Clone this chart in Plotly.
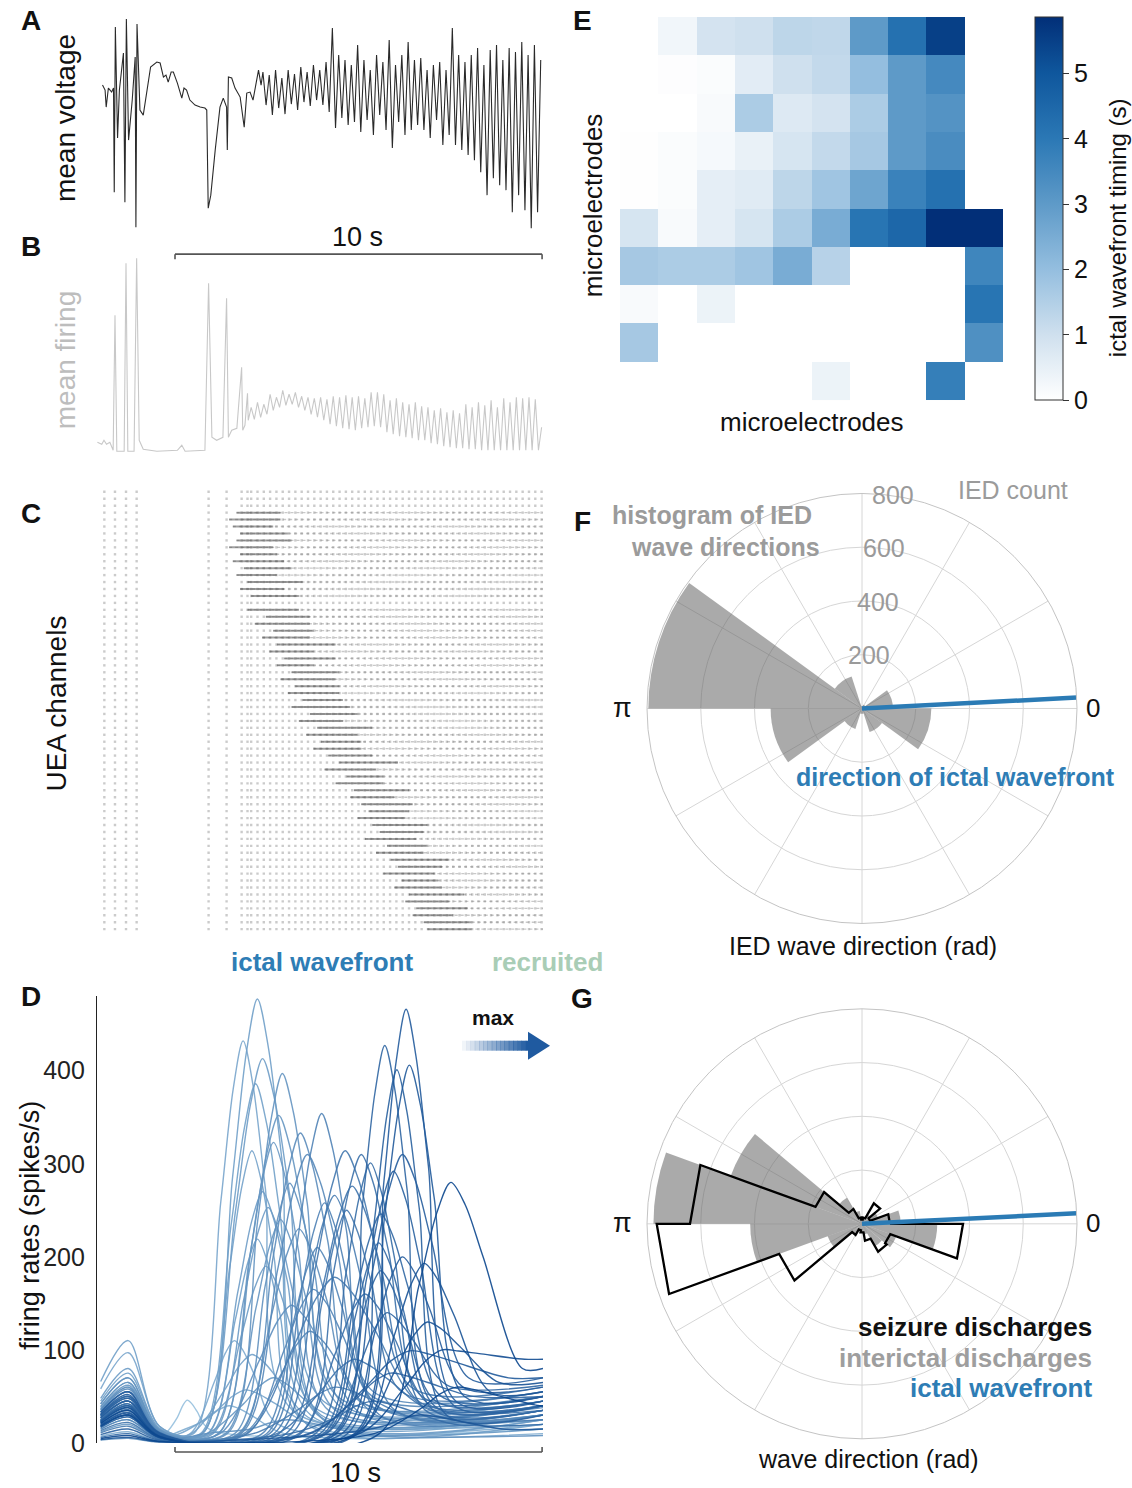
import plotly.graph_objects as go

W = 1132
REF_H = 1488           # height of the reference picture
H = 1503               # css height of the captured page
FONT = "Liberation Sans, Arial, Helvetica, sans-serif"


def px(x):
    return x / W


def py(y):
    return 1 - y / REF_H


# ------------------------------------------------------------------ DATA
T_END = 12.15          # seconds of recording shown in panels A-D
SAMPLE_DT = 0.086      # sampling step of the oscillatory part (s)

# A: mean voltage (a.u.) - irregular early part (t, v) then sampled part
A_early = [(0.15, 15), (0.22, 10), (0.25, -7), (0.31, 12), (0.40, 8), (0.45, 12),
           (0.47, -92), (0.50, 73), (0.56, -38), (0.61, 10), (0.67, 30), (0.72, 47),
           (0.76, -102), (0.80, 81), (0.86, -40), (0.96, 0), (1.04, 43), (1.06, -127),
           (1.09, 76), (1.17, -10), (1.26, -15), (1.36, 7), (1.46, 33), (1.63, 38),
           (1.72, 37), (1.81, 23), (1.88, 25), (1.94, 18), (2.02, 28), (2.08, 28),
           (2.19, 17), (2.31, 2), (2.37, 12), (2.44, 10), (2.53, 0), (2.67, -5),
           (2.81, -7), (2.94, -8), (2.99, -10), (3.03, -108), (3.10, -95), (3.22, -50),
           (3.35, -7), (3.44, 2), (3.53, -7), (3.55, -50), (3.58, 23), (3.67, 22),
           (3.76, 12), (3.90, 3), (4.01, -27), (4.08, 7), (4.17, 8), (4.25, 0),
           (4.40, 30), (4.47, 15)]
A_osc_start = 4.52
A_osc = [28, -5, 25, -15, 30, -8, 22, -14, 30, -4, 26, -10, 33, -2, 28, -6, 35, 0, 30, -5,
         38, -12, 72, -28, 45, -18, 40, -25, 35, -22, 55, -32, 40, -20, 30, -35, 45, -15,
         38, -30, 60, -48, 35, -22, 45, -35, 58, -30, 40, -25, 42, -30, 30, -38, 35, -20,
         38, -45, 30, -35, 72, -45, 45, -50, 38, -55, 45, -60, 52, -72, 35, -95, 50, -78,
         55, -85, 40, -90, 52, -112, 48, -95, 58, -110, 45, -128, 55, -112, 40]

# B: mean firing (a.u.)
B_early = [(0.01, 10), (0.13, 8), (0.19, 12), (0.26, 8), (0.35, 10), (0.44, 2),
           (0.49, 137), (0.54, 1), (0.74, 1), (0.79, 189), (0.84, 1), (1.01, 1),
           (1.08, 194), (1.15, 12), (1.26, 3), (1.63, 1), (2.19, 2), (2.31, 7),
           (2.40, 1), (2.94, 2), (3.04, 169), (3.13, 15), (3.26, 12), (3.43, 15),
           (3.53, 154), (3.58, 15), (3.67, 22), (3.81, 24), (3.94, 85), (3.97, 22),
           (4.03, 27), (4.10, 59), (4.12, 32)]
B_osc_start = 4.20
B_osc = [45, 33, 50, 35, 48, 38, 58, 42, 55, 45, 62, 47, 58, 48, 60, 45, 56, 42, 55, 38,
         54, 35, 55, 32, 53, 28, 56, 26, 55, 24, 57, 23, 55, 22, 56, 24, 54, 25, 60, 26,
         60, 25, 58, 20, 52, 18, 54, 16, 50, 15, 48, 14, 50, 12, 46, 12, 45, 9, 42, 8,
         44, 6, 40, 5, 42, 4, 39, 4, 48, 3, 45, 3, 50, 2, 47, 2, 52, 2, 45, 2, 54, 2,
         50, 2, 55, 2, 54, 2, 55, 2, 53, 2, 25]

# C: UEA channel raster - IED times, pre-ictal discharges, per-channel recruitment
C_ied_times = [0.2, 0.49, 0.79, 1.08]
C_preictal_times = [3.04, 3.53, 3.94, 4.10]
C_onset = [None, None, None, 3.8, 3.6, 3.7, 3.9, 3.8, 3.6, 3.9, 3.7, 4.0, 3.8, 4.1, 3.9, 4.2,
           None, 4.1, 4.6, 4.3, 4.8, 4.5, 4.9, 4.7, 5.1, 4.9, 5.3, 5.0, 5.4, 5.2, 5.6, 5.3,
           5.8, 5.5, 6.0, 5.7, 6.1, 5.9, 6.3, 6.6, 6.2, 6.8, 6.5, 7.0, 6.9, 7.2, 7.4, 7.1,
           7.5, 7.7, 7.3, 7.9, 7.6, 8.0, 8.2, 7.8, 8.3, 8.1, 8.5, 8.4, 8.7, 8.6, 8.9, 9.0]
C_dur = [0, 0, 0, 1.2, 1.4, 1.1, 1.3, 1.5, 1.2, 1.0, 1.4, 1.3, 1.1, 1.5, 1.2, 1.3,
         0, 1.4, 1.2, 1.5, 1.1, 1.3, 1.6, 1.2, 1.4, 1.0, 1.3, 1.5, 1.2, 1.4, 1.1, 1.6,
         1.3, 1.2, 1.5, 1.4, 1.1, 1.3, 1.2, 1.6, 1.4, 1.0, 1.3, 1.5, 1.2, 1.4, 1.1, 1.3,
         1.5, 1.2, 1.4, 1.1, 1.3, 1.6, 1.2, 1.4, 1.0, 1.3, 1.5, 1.2, 1.4, 1.1, 1.3, 1.2]

# D: firing rates of single units (spikes/s): peak time, peak rate, half-span, early bump, final rate
D_peak_t = [4.37, 3.98, 4.51, 4.32, 5.05, 4.95, 4.22, 4.81, 5.54, 6.12, 5.73, 6.76, 7.20, 7.45,
            7.84, 8.42, 8.17, 8.51, 8.32, 8.08, 9.64, 8.91, 6.47, 6.20, 5.25, 4.51, 4.66, 4.37,
            6.95, 7.73, 7.67, 8.32, 7.73, 6.47, 8.51, 3.74, 4.22, 5.30, 2.46, 4.05, 5.00, 5.50,
            6.00, 6.80, 7.30, 9.00, 9.40, 5.80, 7.00, 4.80, 6.50, 8.00, 3.60, 7.50, 9.80, 5.20,
            8.80, 4.60, 5.90, 7.90]
D_peak_v = [477, 432, 413, 386, 397, 352, 314, 323, 333, 354, 310, 314, 310, 301, 427, 466,
            401, 406, 310, 292, 280, 193, 266, 258, 279, 270, 253, 219, 276, 246, 215, 200,
            185, 178, 99, 110, 95, 148, 46, 57, 240, 230, 210, 250, 160, 130, 100, 120, 90,
            70, 60, 75, 40, 45, 60, 25, 30, 190, 165, 140]
D_span = [1.5, 1.35, 1.65, 1.5, 1.5, 1.65, 1.35, 1.5, 1.65, 1.5, 1.8, 1.8, 1.65, 1.5, 1.35,
          1.35, 1.35, 1.5, 1.8, 1.65, 1.95, 1.8, 1.65, 1.5, 1.5, 1.5, 1.5, 1.35, 1.8, 1.65,
          1.5, 1.65, 1.5, 2.4, 2.7, 1.2, 1.65, 1.95, 0.6, 1.8, 1.5, 1.65, 1.5, 1.5, 1.8, 1.95,
          2.25, 1.8, 2.1, 1.8, 2.25, 2.25, 1.5, 2.25, 2.25, 2.25, 2.25, 1.5, 1.8, 1.65]
D_early = [110, 97, 80, 75, 70, 65, 60, 62, 55, 50, 58, 45, 40, 42, 50, 55, 48, 52, 45, 40,
           35, 38, 45, 50, 60, 55, 50, 65, 40, 35, 38, 30, 33, 28, 30, 25, 40, 35, 30, 30,
           55, 48, 42, 38, 36, 32, 30, 25, 22, 20, 18, 15, 12, 10, 8, 5, 6, 70, 45, 28]
D_end = [40, 35, 45, 30, 50, 40, 25, 35, 45, 40, 55, 60, 50, 35, 40, 45, 30, 50, 70, 40,
         80, 55, 35, 30, 40, 30, 25, 20, 45, 50, 35, 60, 45, 40, 70, 20, 25, 30, 15, 20,
         35, 45, 50, 55, 40, 65, 90, 30, 35, 15, 25, 50, 10, 20, 40, 8, 15, 30, 38, 62]
D_ticks = [0, 100, 200, 300, 400]

# E: ictal wavefront timing (s) on the 10x10 microelectrode grid (None = no electrode)
E_timing = [
    [None, 0.3, 0.9, 1.0, 1.3, 1.25, 3.0, 4.2, 5.5, None],
    [None, 0.05, 0.1, 0.6, 1.0, 1.2, 2.0, 3.0, 3.5, None],
    [None, 0.0, 0.15, 1.6, 0.7, 0.9, 1.6, 3.0, 3.2, None],
    [0.03, 0.1, 0.2, 0.45, 0.85, 1.2, 1.7, 3.0, 3.4, None],
    [0.03, 0.1, 0.55, 0.65, 1.3, 1.8, 2.7, 3.7, 4.2, None],
    [0.85, 0.15, 0.55, 0.85, 1.6, 2.5, 4.1, 4.5, 5.9, 5.9],
    [1.7, 1.6, 1.6, 1.8, 2.5, 1.4, None, None, None, 3.6],
    [0.15, None, 0.4, None, None, None, None, None, None, 4.1],
    [1.7, None, None, None, None, None, None, None, None, 3.3],
    [None, None, None, None, None, 0.4, None, None, 3.8, None],
]
E_zmax = 5.86
E_ticks = [0, 1, 2, 3, 4, 5]

# F: histogram of IED wave directions (counts, 10 bins of 36 deg, from 0 rad)
F_counts = [115, 15, 10, 125, 795, 340, 80, 20, 92, 258]
F_rmax = 800
F_rticks = [200, 400, 600, 800]
ictal_dir_F = 2.9      # degrees
# G: normalised histograms (18 bins of 20 deg)
G_interictal = [0.18, 0.08, 0.05, 0.03, 0.03, 0.06, 0.14, 0.65, 0.97, 0.52, 0.17, 0.06,
                0.03, 0.04, 0.05, 0.12, 0.17, 0.35]
G_seizure = [0.13, 0.04, 0.11, 0.03, 0.02, 0.03, 0.08, 0.23, 0.80, 0.955, 0.41, 0.06,
             0.03, 0.04, 0.08, 0.15, 0.14, 0.47]
ictal_dir_G = 2.8

# ------------------------------------------------------------------ FIGURE
fig = go.Figure()
XD = [px(97), px(543)]

# A
tA = [p[0] for p in A_early] + [A_osc_start + SAMPLE_DT * i for i in range(len(A_osc))]
vA = [p[1] for p in A_early] + A_osc
fig.add_trace(go.Scatter(x=tA, y=vA, mode="lines", line=dict(color="#2a2a2a", width=1.1),
                         xaxis="x", yaxis="y", hoverinfo="skip"))
# B
tB_osc = [B_osc_start + SAMPLE_DT * i for i in range(len(B_osc))]
tB = [p[0] for p in B_early] + tB_osc
vB = [p[1] for p in B_early] + B_osc
fig.add_trace(go.Scatter(x=tB, y=vB, mode="lines", line=dict(color="#c8c8c8", width=1.1),
                         xaxis="x2", yaxis="y2", hoverinfo="skip"))

# C raster
disch = C_ied_times + C_preictal_times + [t for i, t in enumerate(tB_osc) if i % 2 == 0]
nC = len(C_onset)
dx, dy = [], []
for ch in range(nC):
    for t in disch:
        dx.append(t)
        dy.append(ch)
fig.add_trace(go.Scatter(x=dx, y=dy, mode="markers",
                         marker=dict(symbol="square", size=2.4, color="#a0a0a0", opacity=0.55),
                         xaxis="x3", yaxis="y3", hoverinfo="skip"))
mx, my, sx, sy = [], [], [], []
for ch in range(nC):
    on = C_onset[ch]
    if on is None:
        continue
    mx += [on, T_END, None]
    my += [ch, ch, None]
    sx += [on, on + C_dur[ch], None]
    sy += [ch, ch, None]
fig.add_trace(go.Scatter(x=mx, y=my, mode="lines", line=dict(color="rgba(120,120,120,0.4)", width=1.4, dash="dot"),
                         xaxis="x3", yaxis="y3", hoverinfo="skip"))
fig.add_trace(go.Scatter(x=sx, y=sy, mode="lines", line=dict(color="rgba(70,70,70,0.5)", width=2.0),
                         xaxis="x3", yaxis="y3", hoverinfo="skip"))

# D firing-rate curves, coloured by time of maximum
tmin, tmax = min(D_peak_t), max(D_peak_t)
light = (150, 192, 222)
dark = (10, 70, 142)
order = sorted(range(len(D_peak_t)), key=lambda k: D_peak_t[k])
for k in order:
    tp, P, w, e1, en = D_peak_t[k], D_peak_v[k], D_span[k], D_early[k], D_end[k]
    f = (tp - tmin) / (tmax - tmin)
    col = "rgb(%d,%d,%d)" % tuple(int(light[j] + (dark[j] - light[j]) * f) for j in range(3))
    kt = [0.1, 0.85, 1.7, tp - w, tp - 0.45 * w, tp - 0.2 * w, tp,
          tp + 0.2 * w, tp + 0.45 * w, tp + w, T_END]
    kv = [0.6 * e1, e1, min(0.2 * e1, 18), 10, 0.6 * P, 0.88 * P, P,
          0.88 * P + 0.12 * en, 0.6 * P + 0.4 * en, en, en]
    fig.add_trace(go.Scatter(x=kt, y=kv, mode="lines",
                             line=dict(color=col, width=1.4, shape="spline", smoothing=0.9),
                             opacity=0.9, xaxis="x4", yaxis="y4", hoverinfo="skip"))

# E heatmap
E_scale = [[0, "#ffffff"], [0.1706, "#cfe0ee"], [0.3413, "#94bedf"], [0.512, "#5e9ac8"],
           [0.6826, "#2b78b5"], [0.853, "#0f579d"], [1, "#022f78"]]
fig.add_trace(go.Heatmap(z=E_timing, x=list(range(10)), y=list(range(10)), zmin=0, zmax=E_zmax,
                         colorscale=E_scale, xaxis="x5", yaxis="y5", hoverinfo="skip",
                         colorbar=dict(x=px(1035), xanchor="left", y=py(400), yanchor="bottom",
                                       len=383 / REF_H, lenmode="fraction", thickness=28,
                                       xpad=0, ypad=0, outlinecolor="#333", outlinewidth=1,
                                       ticks="outside", ticklen=6, tickcolor="#333",
                                       tickvals=E_ticks, tickfont=dict(size=25, color="#111"))))

# F polar histogram
F_centers = [18 + 36 * k for k in range(len(F_counts))]
fig.add_trace(go.Barpolar(r=F_counts, theta=F_centers, width=[36] * len(F_counts),
                          marker=dict(color="rgba(100,100,100,0.55)", line=dict(width=0)),
                          subplot="polar", hoverinfo="skip"))
fig.add_trace(go.Scatterpolar(r=[0, F_rmax], theta=[0, ictal_dir_F], mode="lines",
                              line=dict(color="#2b7bb5", width=4.5), subplot="polar", hoverinfo="skip"))

# G polar histograms
nG = len(G_interictal)
bw = 360 / nG
G_centers = [bw / 2 + bw * k for k in range(nG)]
fig.add_trace(go.Barpolar(r=G_interictal, theta=G_centers, width=[bw] * nG,
                          marker=dict(color="rgba(100,100,100,0.55)", line=dict(width=0)),
                          subplot="polar2", hoverinfo="skip"))
sr, st = [], []
for k in range(nG):
    sr += [G_seizure[k], G_seizure[k]]
    st += [bw * k, bw * (k + 1)]
sr.append(G_seizure[0])
st.append(360)
fig.add_trace(go.Scatterpolar(r=sr, theta=st, mode="lines", line=dict(color="black", width=2.3),
                              subplot="polar2", hoverinfo="skip"))
fig.add_trace(go.Scatterpolar(r=[0, 1], theta=[0, ictal_dir_G], mode="lines",
                              line=dict(color="#2b7bb5", width=4.5), subplot="polar2", hoverinfo="skip"))

# ------------------------------------------------------------------ LAYOUT
hidden = dict(visible=False, showgrid=False, zeroline=False)


def polar_cfg(cy, rng, rticks):
    return dict(
        domain=dict(x=[px(862 - 215), px(862 + 215)], y=[py(cy + 217), py(cy - 217)]),
        bgcolor="white",
        radialaxis=dict(range=rng, tickvals=rticks, angle=90, showline=False, ticks="",
                        showticklabels=False, gridcolor="#d6d6d6", gridwidth=1),
        angularaxis=dict(rotation=0, direction="counterclockwise", tickvals=list(range(0, 360, 30)),
                         showticklabels=False, ticks="", gridcolor="#d6d6d6", linecolor="#c4c4c4"),
    )


fig.update_layout(
    width=W, height=H, autosize=False, margin=dict(l=0, r=0, t=0, b=0, pad=0),
    paper_bgcolor="white", plot_bgcolor="white", showlegend=False,
    font=dict(family=FONT, color="#111"),
    xaxis=dict(domain=XD, range=[0, T_END], anchor="y", **hidden),
    yaxis=dict(domain=[py(232), py(15)], range=[-132, 85], anchor="x", **hidden),
    xaxis2=dict(domain=XD, range=[0, T_END], anchor="y2", **hidden),
    yaxis2=dict(domain=[py(453), py(250)], range=[-1, 202], anchor="x2", **hidden),
    xaxis3=dict(domain=XD, range=[0, T_END], anchor="y3", **hidden),
    yaxis3=dict(domain=[py(932), py(488)], range=[nC - 0.5, -0.5], anchor="x3", **hidden),
    xaxis4=dict(domain=XD, range=[0, T_END], anchor="y4", **hidden),
    yaxis4=dict(domain=[py(1442), py(995)], range=[0, 480.6], anchor="x4",
                showline=True, linecolor="#222", linewidth=1.3, showgrid=False, zeroline=False,
                ticks="", tickvals=D_ticks, tickfont=dict(size=25, color="#222"), ticklabelstandoff=6),
    xaxis5=dict(domain=[px(620), px(1003)], range=[-0.5, 9.5], anchor="y5", **hidden),
    yaxis5=dict(domain=[py(400), py(17)], range=[9.5, -0.5], anchor="x5", **hidden),
    polar=polar_cfg(708, [0, F_rmax], F_rticks),
    polar2=polar_cfg(1223, [0, 1], [0.25, 0.5, 0.75, 1.0]),
)

ann = []


def text(x, y, s, size=26, color="#111", bold=False, angle=0, xanchor="center", yanchor="middle"):
    ann.append(dict(x=px(x), y=py(y), xref="paper", yref="paper", showarrow=False,
                    text=("<b>%s</b>" % s) if bold else s, textangle=angle, xanchor=xanchor,
                    yanchor=yanchor, font=dict(size=size, color=color, family=FONT)))


for lab, x, y in [("A", 31, 20), ("B", 31, 246), ("C", 31, 513), ("D", 31, 996),
                  ("E", 582, 20), ("F", 582, 521), ("G", 582, 998)]:
    text(x, y, lab, size=28, bold=True)
text(65, 118, "mean voltage", size=28, angle=-90)
text(65, 360, "mean firing", size=28, color="#bdbdbd", angle=-90)
text(56, 703, "UEA channels", size=28, angle=-90)
text(30, 1225, "firing rates (spikes/s)", size=27, angle=-90)
text(357, 237, "10 s", size=27)
text(355, 1472, "10 s", size=27)
text(322, 961, "ictal wavefront", size=26, color="#2e7db5", bold=True)
text(547, 961, "recruited", size=26, color="#a9cdb6", bold=True)
text(493, 1017, "max", size=21, bold=True)
text(593, 205, "microelectrodes", size=26, angle=-90)
text(812, 422, "microelectrodes", size=26)
text(1117, 228, "ictal wavefront timing (s)", size=24, angle=-90)
text(712, 515, "histogram of IED", size=25, color="#9b9b9b", bold=True)
text(725, 547, "wave directions", size=25, color="#9b9b9b", bold=True)
text(1013, 490, "IED count", size=25, color="#9b9b9b")
text(955, 776, "direction of ictal wavefront", size=25, color="#2e7db5", bold=True)
text(863, 945, "IED wave direction (rad)", size=25)
text(1094, 1326, "seizure discharges", size=26, color="#111", bold=True, xanchor="right")
text(1094, 1357, "interictal discharges", size=26, color="#9e9e9e", bold=True, xanchor="right")
text(1094, 1387, "ictal wavefront", size=26, color="#2e7db5", bold=True, xanchor="right")
text(868, 1458, "wave direction (rad)", size=25)
for cy in (708, 1222):
    text(622, cy, "π", size=27)
    text(1093, cy, "0", size=26)
# radial tick labels of F (counts), placed along the upward spoke
for val, (lx, ly) in zip(F_rticks, [(869, 655), (878, 602), (884, 548), (893, 495)]):
    text(lx, ly, str(val), size=25, color="#9a9a9a")

shapes = []
# scale bars (10 s on the shared time axis)
for xr, ybar, ytick in [("x", 254, 259), ("x4", 1451, 1446)]:
    shapes.append(dict(type="line", xref=xr, yref="paper", x0=2.125, x1=12.125, y0=py(ybar), y1=py(ybar),
                       line=dict(color="#555", width=1.6)))
    for xe in (2.125, 12.125):
        shapes.append(dict(type="line", xref=xr, yref="paper", x0=xe, x1=xe, y0=py(ybar), y1=py(ytick),
                           line=dict(color="#555", width=1.6)))
# gradient arrow "max"
nseg = 16
x0a, x1a = 462, 530
for i in range(nseg):
    a = (i + 1) / nseg
    shapes.append(dict(type="rect", xref="paper", yref="paper",
                       x0=px(x0a + (x1a - x0a) * i / nseg), x1=px(x0a + (x1a - x0a) * (i + 1) / nseg + 0.5),
                       y0=py(1050), y1=py(1040), line=dict(width=0),
                       fillcolor="rgba(31,90,160,%.3f)" % a))
shapes.append(dict(type="path", xref="paper", yref="paper",
                   path="M %f %f L %f %f L %f %f Z" % (px(528), py(1031), px(550), py(1045), px(528), py(1059)),
                   fillcolor="#1f5aa0", line=dict(width=0)))

fig.update_layout(annotations=ann, shapes=shapes)
fig.write_html("out.html", config={"responsive": False})
